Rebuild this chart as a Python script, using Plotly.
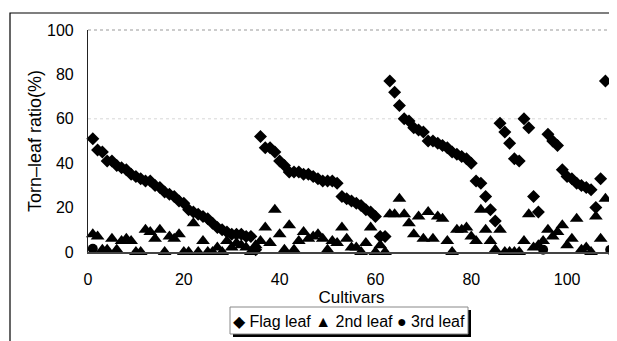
import plotly.graph_objects as go

cultivars = list(range(1, 110))

flag_leaf = (
    [51, 46, 45, 41, 41, 39, 38, 37, 35, 34, 33, 32, 32, 30, 29, 27, 26, 25, 23, 22,
     19, 18, 17, 16, 15, 13, 11, 10, 9, 8, 8, 8, 7, 7]
    + [1]
    + [52, 47, 47, 45, 41, 39, 36, 36, 36, 35, 35, 34, 33, 32, 32, 32, 31, 25, 24, 23,
       22, 21, 19, 18, 16]
    + [7, 7]
    + [77, 72, 66, 60, 59, 56, 55, 54, 50, 50, 49, 48, 47, 45, 44, 43, 42, 40]
    + [32, 31, 25, 19, 14]
    + [58, 54, 49, 42, 41, 60, 56, 25, 18]
    + [None]
    + [53, 50, 48, 37, 34, 33, 31, 30, 29, 28, 20, 33, 77]
    + [None]
)

second_leaf = (
    [8, 7, 1, 1, 6, 1, 5, 6, 5, 0, 0, 10, 9, 6, 10, 0, 7, 6, 8, 0, 0, 13, 0, 5, 0, 0,
     2, 0, 5, 2, 4, 3, 2, 0, 3]
    + [5, 11, 4, 19, 8, 1, 12, 1, 5, 9, 6, 7, 8]
    + [6, 1, 5, 4, 11, 6, 2, 2, 0, 4, 11, 0, 3, 0]
    + [17, 17, 24, 17, 13, 8, 16, 6, 18, 6, 16, 15, 5, 0]
    + [10, 10, 11, 7, 5, 19, 10, 5, 1, 10, 0, 0, 0, 0]
    + [5, 17, 2, 3, 5, 10, 7, 9, 12, 3, 6, 15, 1, 2, 0, 16, 6, 24]
    + [None]
)

third_leaf = [None] * 109
third_leaf[0] = 1.5
third_leaf[94] = 1
third_leaf[108] = 1

y_ticks = [0, 20, 40, 60, 80, 100]
x_ticks = [0, 20, 40, 60, 80, 100]

FONT = "Liberation Sans, Arial, sans-serif"

fig = go.Figure()
fig.add_trace(go.Scatter(x=cultivars, y=flag_leaf, mode="markers", name="Flag leaf",
                         marker=dict(symbol="diamond", size=10, color="black"),
                         cliponaxis=False, showlegend=False))
fig.add_trace(go.Scatter(x=cultivars, y=second_leaf, mode="markers", name="2nd leaf",
                         marker=dict(symbol="triangle-up", size=12, color="black"),
                         cliponaxis=False, showlegend=False))
fig.add_trace(go.Scatter(x=cultivars, y=third_leaf, mode="markers", name="3rd leaf",
                         marker=dict(symbol="circle", size=10, color="black"),
                         cliponaxis=False, showlegend=False))

# page-pixel -> paper coordinates (plot area spans x 88..615, y 30..252 on the page)
def px_x(p):
    return (p - 88) / 527.0

def px_y(p):
    return (252 - p) / 222.0

shapes = [
    # outer chart border (left and top)
    dict(type="path", xref="paper", yref="paper",
         path=f"M {px_x(10)} {px_y(345)} L {px_x(10)} {px_y(13)} L {px_x(620)} {px_y(13)}",
         line=dict(color="black", width=1.2)),
    # gridline at 60
    dict(type="line", xref="paper", yref="y", x0=0, x1=1, y0=60, y1=60,
         line=dict(color="#d8d8d8", width=1, dash="dot"), layer="below"),
    # top plot border
    dict(type="line", xref="paper", yref="paper", x0=0, x1=1, y0=1, y1=1,
         line=dict(color="#999999", width=1, dash="dot"), layer="below"),
    # legend shadow
    dict(type="rect", xref="paper", yref="paper",
         x0=px_x(233), x1=px_x(471), y0=px_y(310), y1=px_y(337),
         fillcolor="black", line=dict(width=0)),
    # legend box
    dict(type="rect", xref="paper", yref="paper",
         x0=px_x(230), x1=px_x(468), y0=px_y(307), y1=px_y(334),
         fillcolor="white", line=dict(color="#888888", width=1)),
]

annotations = [
    dict(text="◆ Flag leaf ▲ 2nd leaf ● 3rd leaf", xref="paper", yref="paper",
         x=px_x(349), y=px_y(321), xanchor="center", yanchor="middle",
         showarrow=False, font=dict(family=FONT, size=16, color="black")),
]

# the page body has an 8px margin, so the figure is 8px smaller and offset
fig.update_layout(
    width=609, height=333,
    margin=dict(l=80, r=2, t=22, b=89),
    paper_bgcolor="white", plot_bgcolor="white",
    font=dict(family=FONT, size=16, color="black"),
    shapes=shapes, annotations=annotations,
    xaxis=dict(range=[0, 110], tickvals=x_ticks, showgrid=False, zeroline=False,
               showline=True, linecolor="#444444", linewidth=1.5, automargin=False,
               ticks="", ticklabelstandoff=12,
               title=dict(text="Cultivars", font=dict(size=17), standoff=0)),
    yaxis=dict(range=[0, 100], tickvals=y_ticks, showgrid=False, zeroline=False,
               showline=True, linecolor="#222222", linewidth=1.2, automargin=False,
               ticks="", ticklabelstandoff=10,
               title=dict(text="Torn\u2013leaf ratio(%)", font=dict(size=18), standoff=0)),
)

fig.write_html("out.html")
